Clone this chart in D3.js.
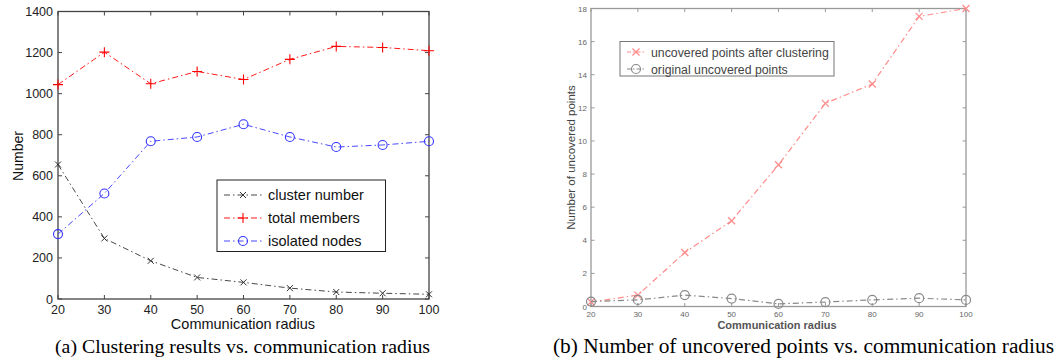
<!DOCTYPE html>
<html><head><meta charset="utf-8">
<script src="https://cdn.jsdelivr.net/npm/d3@7"></script>
<style>body{margin:0;background:#fff}svg{display:block}</style>
</head><body>
<svg id="c" width="1059" height="363"></svg>
<script>
const radius = [20,30,40,50,60,70,80,90,100];
const clusterNumber = [655,295,186,105,81,53,34,28,23];
const totalMembers = [1044,1202,1048,1108,1069,1167,1230,1225,1209];
const isolatedNodes = [316,514,768,789,851,789,740,750,768];
const leftYTicks = [0,200,400,600,800,1000,1200,1400];
const afterClustering = [0.27,0.69,3.26,5.18,8.56,12.27,13.44,17.52,18];
const originalUncovered = [0.3,0.4,0.69,0.48,0.16,0.27,0.4,0.5,0.4];
const rightYTicks = [0,2,4,6,8,10,12,14,16,18];

const svg = d3.select('#c');

// ---------- Left chart ----------
(function(){
  const x = d3.scaleLinear().domain([20,100]).range([58,429]);
  const y = d3.scaleLinear().domain([0,1400]).range([299,11.5]);
  const g = svg.append('g');
  const font = 'Liberation Sans, Arial, sans-serif';
  g.append('rect').attr('x',58).attr('y',11.5).attr('width',371).attr('height',287.5)
    .attr('fill','none').attr('stroke','#444').attr('stroke-width',1.3);
  radius.forEach(v=>{
    g.append('line').attr('x1',x(v)).attr('x2',x(v)).attr('y1',299).attr('y2',295).attr('stroke','#444');
    g.append('line').attr('x1',x(v)).attr('x2',x(v)).attr('y1',11.5).attr('y2',15.5).attr('stroke','#444');
    g.append('text').attr('x',x(v)).attr('y',313.5).attr('text-anchor','middle')
      .attr('font-family',font).attr('font-size',12.5).attr('fill','#222').text(v);
  });
  leftYTicks.forEach(v=>{
    g.append('line').attr('x1',58).attr('x2',62).attr('y1',y(v)).attr('y2',y(v)).attr('stroke','#444');
    g.append('line').attr('x1',429).attr('x2',425).attr('y1',y(v)).attr('y2',y(v)).attr('stroke','#444');
    g.append('text').attr('x',53).attr('y',y(v)+4.5).attr('text-anchor','end')
      .attr('font-family',font).attr('font-size',12.5).attr('fill','#222').text(v);
  });
  g.append('text').attr('transform','translate(23,156) rotate(-90)').attr('text-anchor','middle')
    .attr('font-family',font).attr('font-size',14).attr('fill','#111').text('Number');
  g.append('text').attr('x',243).attr('y',328.5).attr('text-anchor','middle')
    .attr('font-family',font).attr('font-size',14.5).attr('fill','#111').text('Communication radius');

  const series = [
    {vals: clusterNumber, color:'#333', marker:'x', name:'cluster number'},
    {vals: totalMembers, color:'#f00', marker:'+', name:'total members'},
    {vals: isolatedNodes, color:'#33f', marker:'o', name:'isolated nodes'}
  ];
  const line = d3.line().x((d,i)=>x(radius[i])).y(d=>y(d));
  function marker(sel, cx, cy, type, color){
    if(type==='x'){
      sel.append('path').attr('d',`M${cx-3},${cy-3}L${cx+3},${cy+3}M${cx-3},${cy+3}L${cx+3},${cy-3}`)
        .attr('stroke',color).attr('stroke-width',1);
    } else if(type==='+'){
      sel.append('path').attr('d',`M${cx-5},${cy}L${cx+5},${cy}M${cx},${cy-5}L${cx},${cy+5}`)
        .attr('stroke',color).attr('stroke-width',1.1);
    } else {
      sel.append('circle').attr('cx',cx).attr('cy',cy).attr('r',4.5).attr('fill','none')
        .attr('stroke',color).attr('stroke-width',1.1);
    }
  }
  series.forEach(s=>{
    g.append('path').attr('d',line(s.vals)).attr('fill','none').attr('stroke',s.color)
      .attr('stroke-width',0.9).attr('stroke-dasharray','6,3,1.5,3');
    s.vals.forEach((v,i)=>marker(g,x(radius[i]),y(v),s.marker,s.color));
  });
  g.append('rect').attr('x',217).attr('y',180).attr('width',168.5).attr('height',71.5)
    .attr('fill','#fff').attr('stroke','#222').attr('stroke-width',1);
  series.forEach((s,i)=>{
    const ly = 195+i*23;
    g.append('line').attr('x1',224).attr('x2',262).attr('y1',ly).attr('y2',ly)
      .attr('stroke',s.color).attr('stroke-width',0.9).attr('stroke-dasharray','6,3,1.5,3');
    marker(g,243,ly,s.marker,s.color);
    g.append('text').attr('x',268).attr('y',ly+5).attr('font-family',font).attr('font-size',14.5)
      .attr('fill','#111').text(s.name);
  });
  g.append('text').attr('x',55).attr('y',352.5).attr('textLength',375).attr('lengthAdjust','spacingAndGlyphs')
    .attr('font-family','Liberation Serif, Times New Roman, serif').attr('font-size',19.5)
    .attr('fill','#000').text('(a) Clustering results vs. communication radius');
})();

// ---------- Right chart ----------
(function(){
  const x = d3.scaleLinear().domain([20,100]).range([591,966]);
  const y = d3.scaleLinear().domain([0,18]).range([306.5,8.5]);
  const g = svg.append('g');
  const font = 'Liberation Sans, Arial, sans-serif';
  g.append('rect').attr('x',591).attr('y',8.5).attr('width',375).attr('height',298)
    .attr('fill','none').attr('stroke','#999').attr('stroke-width',1.3);
  radius.forEach(v=>{
    g.append('line').attr('x1',x(v)).attr('x2',x(v)).attr('y1',306.5).attr('y2',303).attr('stroke','#999');
    g.append('line').attr('x1',x(v)).attr('x2',x(v)).attr('y1',8.5).attr('y2',12).attr('stroke','#999');
    g.append('text').attr('x',x(v)).attr('y',317).attr('text-anchor','middle')
      .attr('font-family',font).attr('font-size',8).attr('fill','#666').text(v);
  });
  rightYTicks.forEach(v=>{
    g.append('line').attr('x1',591).attr('x2',594.5).attr('y1',y(v)).attr('y2',y(v)).attr('stroke','#999');
    g.append('line').attr('x1',966).attr('x2',962.5).attr('y1',y(v)).attr('y2',y(v)).attr('stroke','#999');
    g.append('text').attr('x',587).attr('y',y(v)+3).attr('text-anchor','end')
      .attr('font-family',font).attr('font-size',8).attr('fill','#666').text(v);
  });
  g.append('text').attr('transform','translate(575,157.5) rotate(-90)').attr('text-anchor','middle')
    .attr('font-family',font).attr('font-size',11.5).attr('fill','#444').text('Number of uncovered points');
  g.append('text').attr('x',777).attr('y',328.5).attr('text-anchor','middle')
    .attr('font-family',font).attr('font-size',11).attr('font-weight','bold').attr('fill','#555').text('Communication radius');

  const series = [
    {vals: afterClustering, color:'#ff8a8a', marker:'x', name:'uncovered points after clustering'},
    {vals: originalUncovered, color:'#8a8a8a', marker:'o', name:'original uncovered points'}
  ];
  const line = d3.line().x((d,i)=>x(radius[i])).y(d=>y(d));
  function marker(sel, cx, cy, type, color){
    if(type==='x'){
      sel.append('path').attr('d',`M${cx-3.5},${cy-3.5}L${cx+3.5},${cy+3.5}M${cx-3.5},${cy+3.5}L${cx+3.5},${cy-3.5}`)
        .attr('stroke',color).attr('stroke-width',1.2);
    } else {
      sel.append('circle').attr('cx',cx).attr('cy',cy).attr('r',4.5).attr('fill','none')
        .attr('stroke',color).attr('stroke-width',1.2);
    }
  }
  series.forEach(s=>{
    g.append('path').attr('d',line(s.vals)).attr('fill','none').attr('stroke',s.color)
      .attr('stroke-width',1.2).attr('stroke-dasharray','6,3,1.5,3');
    s.vals.forEach((v,i)=>marker(g,x(radius[i]),y(v),s.marker,s.color));
  });
  g.append('rect').attr('x',620).attr('y',41.5).attr('width',214).attr('height',34.5)
    .attr('fill','#fff').attr('stroke','#777').attr('stroke-width',1);
  series.forEach((s,i)=>{
    const ly = 52+i*17;
    g.append('line').attr('x1',627).attr('x2',645).attr('y1',ly).attr('y2',ly)
      .attr('stroke',s.color).attr('stroke-width',1.1).attr('stroke-dasharray','4,2,1.5,2');
    marker(g,636,ly,s.marker,s.color);
    g.append('text').attr('x',651).attr('y',ly+4.5).attr('font-family',font).attr('font-size',12.3)
      .attr('fill','#444').text(s.name);
  });
  g.append('text').attr('x',553).attr('y',352.5).attr('textLength',501).attr('lengthAdjust','spacingAndGlyphs')
    .attr('font-family','Liberation Serif, Times New Roman, serif').attr('font-size',20.5)
    .attr('fill','#000').text('(b) Number of uncovered points vs. communication radius');
})();
</script>
</body></html>
